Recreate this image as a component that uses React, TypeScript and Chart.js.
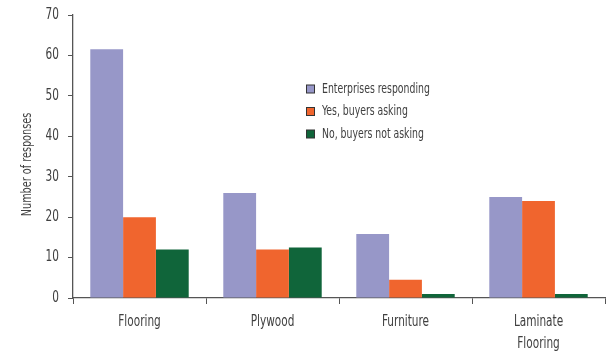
import React, { useEffect, useRef } from "react";
import { Chart, registerables } from "chart.js";

Chart.register(...registerables);

const categories: (string | string[])[] = ["Flooring", "Plywood", "Furniture", ["Laminate", "Flooring"]];
const enterprisesResponding = [61.5, 26, 15.8, 25];
const yesBuyersAsking = [20, 12, 4.5, 24];
const noBuyersNotAsking = [12, 12.5, 1, 1];
const seriesNames = ["Enterprises responding", "Yes, buyers asking", "No, buyers not asking"];
const seriesColors = ["#9797C8", "#F0652E", "#10653A"];
const yTicks = [0, 10, 20, 30, 40, 50, 60, 70];
const yTitle = "Number of responses";

const FONT = "'DejaVu Sans Condensed', 'Liberation Sans Narrow', sans-serif";
const TEXT = "#404040";
const AXIS = "#555555";

function drawText(ctx: any, text: string, x: number, y: number, align: string, sx: number, rot = 0) {
  ctx.save();
  ctx.translate(x, y);
  if (rot) ctx.rotate(rot);
  ctx.scale(sx, 1);
  ctx.textAlign = align;
  ctx.fillText(text, 0, 0);
  ctx.restore();
}

const textPlugin = {
  id: "condensedText",
  afterDraw(chart: any) {
    const ctx = chart.ctx;
    ctx.save();
    ctx.fillStyle = TEXT;
    // x tick labels
    const xs = chart.scales.x;
    ctx.font = `15px ${FONT}`;
    ctx.textBaseline = "alphabetic";
    categories.forEach((c, i) => {
      const x = xs.getPixelForTick(i);
      const lines = Array.isArray(c) ? c : [c];
      lines.forEach((ln, j) => drawText(ctx, ln, x, xs.top + 28 + j * 22, "center", 0.78));
    });
    // y tick labels
    const ys = chart.scales.y;
    ctx.textBaseline = "middle";
    yTicks.forEach((v) => {
      drawText(ctx, String(v), ys.right - 14, ys.getPixelForValue(v), "right", 0.78);
    });
    // y title
    ctx.font = `14px ${FONT}`;
    drawText(ctx, yTitle, 27, (ys.top + ys.bottom) / 2 + 8, "center", 0.77, -Math.PI / 2);
    // legend
    ctx.font = `14px ${FONT}`;
    chart.data.datasets.forEach((ds: any, i: number) => {
      const y = 89 + i * 22.5;
      ctx.fillStyle = ds.backgroundColor;
      ctx.fillRect(306.5, y - 4, 8, 8);
      ctx.strokeStyle = "#333333";
      ctx.lineWidth = 1;
      ctx.strokeRect(306.5, y - 4, 8, 8);
      ctx.fillStyle = TEXT;
      drawText(ctx, ds.label, 322, y, "left", 0.74);
    });
    ctx.restore();
  },
};

export default function App() {
  const ref = useRef<HTMLCanvasElement | null>(null);
  useEffect(() => {
    if (!ref.current) return;
    const data = [enterprisesResponding, yesBuyersAsking, noBuyersNotAsking];
    const chart = new Chart(ref.current, {
      type: "bar",
      data: {
        labels: categories,
        datasets: data.map((d, i) => ({
          label: seriesNames[i],
          data: d,
          backgroundColor: seriesColors[i],
          borderWidth: 0,
          categoryPercentage: 0.74,
          barPercentage: 1.0,
        })),
      },
      options: {
        animation: false,
        responsive: false,
        maintainAspectRatio: false,
        layout: { padding: { top: 15, right: 6, left: 0, bottom: 0 } },
        plugins: { legend: { display: false }, tooltip: { enabled: false } },
        scales: {
          x: {
            offset: true,
            grid: { display: true, drawOnChartArea: false, drawTicks: true, tickLength: 6, color: AXIS, offset: true },
            border: { display: true, color: AXIS, width: 1.3 },
            ticks: { display: false },
            afterFit: (s: any) => { s.height = 53; },
          },
          y: {
            min: 0,
            max: 70,
            afterBuildTicks: (s: any) => { s.ticks = yTicks.map((v) => ({ value: v })); },
            grid: { display: true, drawOnChartArea: false, drawTicks: true, tickLength: 5, color: AXIS },
            border: { display: true, color: AXIS, width: 1.3 },
            ticks: { display: false },
            afterFit: (s: any) => { s.width = 73; },
          },
        },
      },
      plugins: [textPlugin],
    });
    return () => chart.destroy();
  }, []);
  return (
    <div style={{ position: "absolute", left: 0, top: 0, width: 611, height: 351, background: "#fff" }}>
      <canvas ref={ref} width={611} height={351} style={{ width: 611, height: 351 }} />
    </div>
  );
}
